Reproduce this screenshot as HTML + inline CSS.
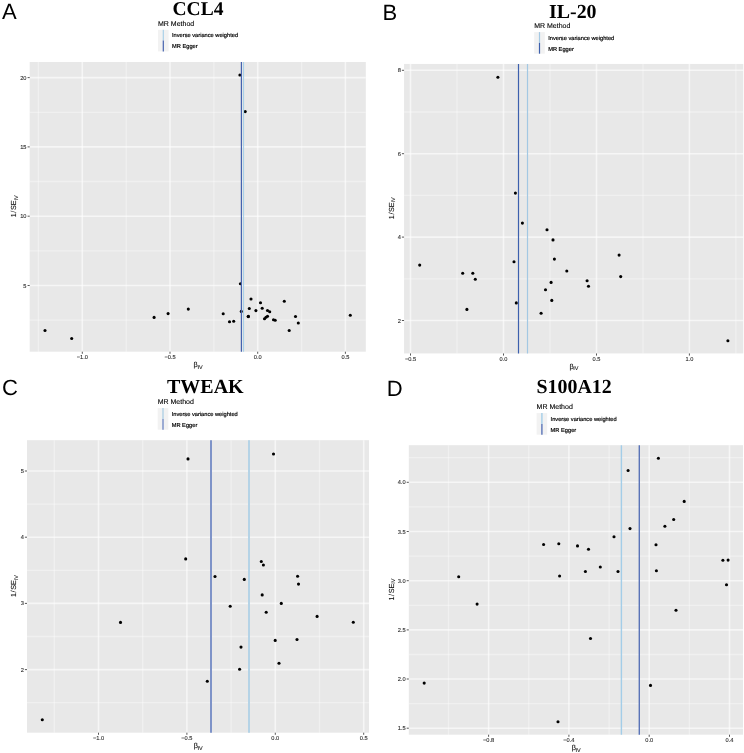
<!DOCTYPE html>
<html lang="en"><head><meta charset="utf-8"><title>Funnel plots</title>
<style>html,body{margin:0;padding:0;background:#fff}svg{display:block}text{font-family:"Liberation Sans",Arial,sans-serif;text-rendering:geometricPrecision}.t{font-family:"Liberation Serif","Times New Roman",serif;font-weight:bold;font-size:19.6px;fill:#000}.pl{font-size:22px;fill:#000}.tk{font-size:5.7px;fill:#2b2b2b;stroke:#2b2b2b;stroke-width:.1px}.ax{font-size:7.3px;fill:#111;stroke:#111;stroke-width:.12px}.sub{font-size:5.4px}.lt{font-size:7px;fill:#000;stroke:#000;stroke-width:.12px}.ll{font-size:5.7px;fill:#000;stroke:#000;stroke-width:.18px}</style></head><body>
<svg width="744" height="753" viewBox="0 0 744 753" style="will-change:transform">
<g id="panelA">
<rect x="29.7" y="62" width="336.1" height="289.7" fill="#e8e8e8"/>
<line x1="38.4" x2="38.4" y1="62" y2="351.7" stroke="#fff" stroke-opacity=".36" stroke-width="1.3"/>
<line x1="126.2" x2="126.2" y1="62" y2="351.7" stroke="#fff" stroke-opacity=".36" stroke-width="1.3"/>
<line x1="213.9" x2="213.9" y1="62" y2="351.7" stroke="#fff" stroke-opacity=".36" stroke-width="1.3"/>
<line x1="301.6" x2="301.6" y1="62" y2="351.7" stroke="#fff" stroke-opacity=".36" stroke-width="1.3"/>
<line x1="29.7" x2="365.8" y1="320.1" y2="320.1" stroke="#fff" stroke-opacity=".36" stroke-width="1.3"/>
<line x1="29.7" x2="365.8" y1="250.8" y2="250.8" stroke="#fff" stroke-opacity=".36" stroke-width="1.3"/>
<line x1="29.7" x2="365.8" y1="181.5" y2="181.5" stroke="#fff" stroke-opacity=".36" stroke-width="1.3"/>
<line x1="29.7" x2="365.8" y1="112.3" y2="112.3" stroke="#fff" stroke-opacity=".36" stroke-width="1.3"/>
<line x1="82.3" x2="82.3" y1="62" y2="351.7" stroke="#fff" stroke-opacity=".6" stroke-width="1.6"/>
<line x1="82.3" x2="82.3" y1="351.7" y2="353.8" stroke="#444" stroke-width=".9"/>
<text class="tk" x="82.3" y="359.0" text-anchor="middle">−1.0</text>
<line x1="170.0" x2="170.0" y1="62" y2="351.7" stroke="#fff" stroke-opacity=".6" stroke-width="1.6"/>
<line x1="170.0" x2="170.0" y1="351.7" y2="353.8" stroke="#444" stroke-width=".9"/>
<text class="tk" x="170.0" y="359.0" text-anchor="middle">−0.5</text>
<line x1="257.7" x2="257.7" y1="62" y2="351.7" stroke="#fff" stroke-opacity=".6" stroke-width="1.6"/>
<line x1="257.7" x2="257.7" y1="351.7" y2="353.8" stroke="#444" stroke-width=".9"/>
<text class="tk" x="257.7" y="359.0" text-anchor="middle">0.0</text>
<line x1="345.4" x2="345.4" y1="62" y2="351.7" stroke="#fff" stroke-opacity=".6" stroke-width="1.6"/>
<line x1="345.4" x2="345.4" y1="351.7" y2="353.8" stroke="#444" stroke-width=".9"/>
<text class="tk" x="345.4" y="359.0" text-anchor="middle">0.5</text>
<line x1="29.7" x2="365.8" y1="285.5" y2="285.5" stroke="#fff" stroke-opacity=".6" stroke-width="1.6"/>
<line x1="27.6" x2="29.7" y1="285.5" y2="285.5" stroke="#444" stroke-width=".9"/>
<text class="tk" x="26.5" y="287.5" text-anchor="end">5</text>
<line x1="29.7" x2="365.8" y1="216.2" y2="216.2" stroke="#fff" stroke-opacity=".6" stroke-width="1.6"/>
<line x1="27.6" x2="29.7" y1="216.2" y2="216.2" stroke="#444" stroke-width=".9"/>
<text class="tk" x="26.5" y="218.2" text-anchor="end">10</text>
<line x1="29.7" x2="365.8" y1="146.9" y2="146.9" stroke="#fff" stroke-opacity=".6" stroke-width="1.6"/>
<line x1="27.6" x2="29.7" y1="146.9" y2="146.9" stroke="#444" stroke-width=".9"/>
<text class="tk" x="26.5" y="148.9" text-anchor="end">15</text>
<line x1="29.7" x2="365.8" y1="77.6" y2="77.6" stroke="#fff" stroke-opacity=".6" stroke-width="1.6"/>
<line x1="27.6" x2="29.7" y1="77.6" y2="77.6" stroke="#444" stroke-width=".9"/>
<text class="tk" x="26.5" y="79.6" text-anchor="end">20</text>
<g fill="#000"><circle cx="45" cy="330.5" r="1.55"/><circle cx="71.7" cy="338.5" r="1.55"/><circle cx="251" cy="299" r="1.55"/><circle cx="249.3" cy="308.5" r="1.55"/><circle cx="248.4" cy="316.4" r="1.55"/><circle cx="255.9" cy="310.6" r="1.55"/><circle cx="260.5" cy="302.8" r="1.55"/><circle cx="262.2" cy="308.3" r="1.55"/><circle cx="267.5" cy="310.5" r="1.55"/><circle cx="269.7" cy="311.7" r="1.55"/><circle cx="267.5" cy="316.3" r="1.55"/><circle cx="266" cy="317.3" r="1.55"/><circle cx="264.5" cy="318.7" r="1.55"/><circle cx="273.5" cy="319.7" r="1.55"/><circle cx="275.2" cy="320.3" r="1.55"/><circle cx="284.3" cy="301.3" r="1.55"/><circle cx="295.5" cy="316.5" r="1.55"/><circle cx="298.3" cy="323" r="1.55"/><circle cx="289.2" cy="330.5" r="1.55"/><circle cx="350.3" cy="315.3" r="1.55"/><circle cx="154.1" cy="317.4" r="1.55"/><circle cx="168.1" cy="313.6" r="1.55"/><circle cx="188.3" cy="309.1" r="1.55"/><circle cx="223.2" cy="313.8" r="1.55"/><circle cx="229.5" cy="321.7" r="1.55"/><circle cx="233.7" cy="321.3" r="1.55"/><circle cx="240.4" cy="283.7" r="1.55"/><circle cx="241.3" cy="311.4" r="1.55"/><circle cx="248.2" cy="316.6" r="1.55"/><circle cx="239.9" cy="75" r="1.55"/><circle cx="245.2" cy="111.6" r="1.55"/></g>
<line x1="243.5" x2="243.5" y1="62" y2="351.7" stroke="#a9d0e8" stroke-width="1.2"/>
<line x1="241.4" x2="241.4" y1="62" y2="351.7" stroke="#4562ae" stroke-width="1.2"/>
<text class="ax" x="193.6" y="366.9">β<tspan class="sub" dy="1.7" dx="-.4">IV</tspan></text>
<text class="ax" transform="translate(16,217.3) rotate(-90)" >1<tspan dx=".55">/</tspan><tspan dx=".55">SE</tspan><tspan class="sub" dy="1.5" dx="-.2">IV</tspan></text>
<text class="t" style="font-size:19.5px" x="198" y="15.3" text-anchor="middle">CCL4</text>
<text class="pl" x="2" y="19">A</text>
<text class="lt" x="158" y="26.0">MR Method</text>
<rect x="158" y="29.8" width="10.6" height="21.6" fill="#f2f2f2"/>
<line x1="163.3" x2="163.3" y1="29.8" y2="40.6" stroke="#a9d0e8" stroke-width="1.2"/>
<line x1="163.3" x2="163.3" y1="40.6" y2="51.4" stroke="#4562ae" stroke-width="1.2"/>
<text class="ll" x="172.0" y="37.4">Inverse variance weighted</text>
<text class="ll" x="172.0" y="48.4">MR Egger</text>
</g>
<g id="panelB">
<rect x="404.05" y="63.95" width="339.2" height="289.5" fill="#e8e8e8"/>
<line x1="457.0" x2="457.0" y1="63.95" y2="353.45" stroke="#fff" stroke-opacity=".36" stroke-width="1.3"/>
<line x1="550.0" x2="550.0" y1="63.95" y2="353.45" stroke="#fff" stroke-opacity=".36" stroke-width="1.3"/>
<line x1="643.0" x2="643.0" y1="63.95" y2="353.45" stroke="#fff" stroke-opacity=".36" stroke-width="1.3"/>
<line x1="735.9" x2="735.9" y1="63.95" y2="353.45" stroke="#fff" stroke-opacity=".36" stroke-width="1.3"/>
<line x1="404.05" x2="743.3" y1="278.8" y2="278.8" stroke="#fff" stroke-opacity=".36" stroke-width="1.3"/>
<line x1="404.05" x2="743.3" y1="195.4" y2="195.4" stroke="#fff" stroke-opacity=".36" stroke-width="1.3"/>
<line x1="404.05" x2="743.3" y1="112.0" y2="112.0" stroke="#fff" stroke-opacity=".36" stroke-width="1.3"/>
<line x1="410.5" x2="410.5" y1="63.95" y2="353.45" stroke="#fff" stroke-opacity=".6" stroke-width="1.6"/>
<line x1="410.5" x2="410.5" y1="353.45" y2="355.6" stroke="#444" stroke-width=".9"/>
<text class="tk" x="410.5" y="360.8" text-anchor="middle">−0.5</text>
<line x1="503.5" x2="503.5" y1="63.95" y2="353.45" stroke="#fff" stroke-opacity=".6" stroke-width="1.6"/>
<line x1="503.5" x2="503.5" y1="353.45" y2="355.6" stroke="#444" stroke-width=".9"/>
<text class="tk" x="503.5" y="360.8" text-anchor="middle">0.0</text>
<line x1="596.5" x2="596.5" y1="63.95" y2="353.45" stroke="#fff" stroke-opacity=".6" stroke-width="1.6"/>
<line x1="596.5" x2="596.5" y1="353.45" y2="355.6" stroke="#444" stroke-width=".9"/>
<text class="tk" x="596.5" y="360.8" text-anchor="middle">0.5</text>
<line x1="689.4" x2="689.4" y1="63.95" y2="353.45" stroke="#fff" stroke-opacity=".6" stroke-width="1.6"/>
<line x1="689.4" x2="689.4" y1="353.45" y2="355.6" stroke="#444" stroke-width=".9"/>
<text class="tk" x="689.4" y="360.8" text-anchor="middle">1.0</text>
<line x1="404.05" x2="743.3" y1="320.5" y2="320.5" stroke="#fff" stroke-opacity=".6" stroke-width="1.6"/>
<line x1="401.9" x2="404.05" y1="320.5" y2="320.5" stroke="#444" stroke-width=".9"/>
<text class="tk" x="400.9" y="322.5" text-anchor="end">2</text>
<line x1="404.05" x2="743.3" y1="237.1" y2="237.1" stroke="#fff" stroke-opacity=".6" stroke-width="1.6"/>
<line x1="401.9" x2="404.05" y1="237.1" y2="237.1" stroke="#444" stroke-width=".9"/>
<text class="tk" x="400.9" y="239.1" text-anchor="end">4</text>
<line x1="404.05" x2="743.3" y1="153.7" y2="153.7" stroke="#fff" stroke-opacity=".6" stroke-width="1.6"/>
<line x1="401.9" x2="404.05" y1="153.7" y2="153.7" stroke="#444" stroke-width=".9"/>
<text class="tk" x="400.9" y="155.7" text-anchor="end">6</text>
<line x1="404.05" x2="743.3" y1="70.3" y2="70.3" stroke="#fff" stroke-opacity=".6" stroke-width="1.6"/>
<line x1="401.9" x2="404.05" y1="70.3" y2="70.3" stroke="#444" stroke-width=".9"/>
<text class="tk" x="400.9" y="72.3" text-anchor="end">8</text>
<g fill="#000"><circle cx="462.7" cy="273.3" r="1.55"/><circle cx="472.8" cy="273.3" r="1.55"/><circle cx="475.3" cy="279.2" r="1.55"/><circle cx="466.9" cy="309.4" r="1.55"/><circle cx="516.3" cy="302.9" r="1.55"/><circle cx="522.4" cy="223.1" r="1.55"/><circle cx="547" cy="229.7" r="1.55"/><circle cx="553" cy="239.9" r="1.55"/><circle cx="514" cy="261.7" r="1.55"/><circle cx="554.4" cy="259.1" r="1.55"/><circle cx="566.8" cy="271" r="1.55"/><circle cx="619.1" cy="255.1" r="1.55"/><circle cx="620.7" cy="276.6" r="1.55"/><circle cx="551.1" cy="282.4" r="1.55"/><circle cx="587.1" cy="280.8" r="1.55"/><circle cx="588.5" cy="286.2" r="1.55"/><circle cx="545.5" cy="289.7" r="1.55"/><circle cx="551.8" cy="300.4" r="1.55"/><circle cx="541.1" cy="313.3" r="1.55"/><circle cx="497.9" cy="77.2" r="1.55"/><circle cx="515.4" cy="193.1" r="1.55"/><circle cx="727.9" cy="340.8" r="1.55"/><circle cx="419.7" cy="265.1" r="1.55"/></g>
<line x1="527.5" x2="527.5" y1="63.95" y2="353.45" stroke="#a3c8e3" stroke-width="1.2"/>
<line x1="518.5" x2="518.5" y1="63.95" y2="353.45" stroke="#3d60ad" stroke-width="1.2"/>
<text class="ax" x="569.5" y="368.6">β<tspan class="sub" dy="1.7" dx="-.4">IV</tspan></text>
<text class="ax" transform="translate(393.8,219.2) rotate(-90)" >1<tspan dx=".55">/</tspan><tspan dx=".55">SE</tspan><tspan class="sub" dy="1.5" dx="-.2">IV</tspan></text>
<text class="t" style="font-size:19.9px" x="572.8" y="18.2" text-anchor="middle">IL-20</text>
<text class="pl" x="382.5" y="19.8">B</text>
<text class="lt" x="534.2" y="28.3">MR Method</text>
<rect x="534.2" y="32.1" width="10.6" height="21.6" fill="#f2f2f2"/>
<line x1="539.5" x2="539.5" y1="32.1" y2="42.9" stroke="#a3c8e3" stroke-width="1.2"/>
<line x1="539.5" x2="539.5" y1="42.9" y2="53.7" stroke="#3d60ad" stroke-width="1.2"/>
<text class="ll" x="548.2" y="39.7">Inverse variance weighted</text>
<text class="ll" x="548.2" y="50.7">MR Egger</text>
</g>
<g id="panelC">
<rect x="27" y="440.2" width="342.0" height="292.5" fill="#e8e8e8"/>
<line x1="54.3" x2="54.3" y1="440.2" y2="732.7" stroke="#fff" stroke-opacity=".36" stroke-width="1.3"/>
<line x1="142.7" x2="142.7" y1="440.2" y2="732.7" stroke="#fff" stroke-opacity=".36" stroke-width="1.3"/>
<line x1="231.1" x2="231.1" y1="440.2" y2="732.7" stroke="#fff" stroke-opacity=".36" stroke-width="1.3"/>
<line x1="319.5" x2="319.5" y1="440.2" y2="732.7" stroke="#fff" stroke-opacity=".36" stroke-width="1.3"/>
<line x1="27" x2="369" y1="702.7" y2="702.7" stroke="#fff" stroke-opacity=".36" stroke-width="1.3"/>
<line x1="27" x2="369" y1="636.5" y2="636.5" stroke="#fff" stroke-opacity=".36" stroke-width="1.3"/>
<line x1="27" x2="369" y1="570.3" y2="570.3" stroke="#fff" stroke-opacity=".36" stroke-width="1.3"/>
<line x1="27" x2="369" y1="504.1" y2="504.1" stroke="#fff" stroke-opacity=".36" stroke-width="1.3"/>
<line x1="98.5" x2="98.5" y1="440.2" y2="732.7" stroke="#fff" stroke-opacity=".6" stroke-width="1.6"/>
<line x1="98.5" x2="98.5" y1="732.7" y2="734.8" stroke="#444" stroke-width=".9"/>
<text class="tk" x="98.5" y="740.0" text-anchor="middle">−1.0</text>
<line x1="186.9" x2="186.9" y1="440.2" y2="732.7" stroke="#fff" stroke-opacity=".6" stroke-width="1.6"/>
<line x1="186.9" x2="186.9" y1="732.7" y2="734.8" stroke="#444" stroke-width=".9"/>
<text class="tk" x="186.9" y="740.0" text-anchor="middle">−0.5</text>
<line x1="275.3" x2="275.3" y1="440.2" y2="732.7" stroke="#fff" stroke-opacity=".6" stroke-width="1.6"/>
<line x1="275.3" x2="275.3" y1="732.7" y2="734.8" stroke="#444" stroke-width=".9"/>
<text class="tk" x="275.3" y="740.0" text-anchor="middle">0.0</text>
<line x1="363.7" x2="363.7" y1="440.2" y2="732.7" stroke="#fff" stroke-opacity=".6" stroke-width="1.6"/>
<line x1="363.7" x2="363.7" y1="732.7" y2="734.8" stroke="#444" stroke-width=".9"/>
<text class="tk" x="363.7" y="740.0" text-anchor="middle">0.5</text>
<line x1="27" x2="369" y1="669.6" y2="669.6" stroke="#fff" stroke-opacity=".6" stroke-width="1.6"/>
<line x1="24.9" x2="27" y1="669.6" y2="669.6" stroke="#444" stroke-width=".9"/>
<text class="tk" x="23.8" y="671.6" text-anchor="end">2</text>
<line x1="27" x2="369" y1="603.4" y2="603.4" stroke="#fff" stroke-opacity=".6" stroke-width="1.6"/>
<line x1="24.9" x2="27" y1="603.4" y2="603.4" stroke="#444" stroke-width=".9"/>
<text class="tk" x="23.8" y="605.4" text-anchor="end">3</text>
<line x1="27" x2="369" y1="537.2" y2="537.2" stroke="#fff" stroke-opacity=".6" stroke-width="1.6"/>
<line x1="24.9" x2="27" y1="537.2" y2="537.2" stroke="#444" stroke-width=".9"/>
<text class="tk" x="23.8" y="539.2" text-anchor="end">4</text>
<line x1="27" x2="369" y1="471.0" y2="471.0" stroke="#fff" stroke-opacity=".6" stroke-width="1.6"/>
<line x1="24.9" x2="27" y1="471.0" y2="471.0" stroke="#444" stroke-width=".9"/>
<text class="tk" x="23.8" y="473.0" text-anchor="end">5</text>
<g fill="#000"><circle cx="42.3" cy="719.7" r="1.55"/><circle cx="120.5" cy="622.4" r="1.55"/><circle cx="188" cy="458.9" r="1.55"/><circle cx="273.5" cy="454" r="1.55"/><circle cx="185.7" cy="558.9" r="1.55"/><circle cx="261.3" cy="561.5" r="1.55"/><circle cx="263.4" cy="565" r="1.55"/><circle cx="215" cy="576.5" r="1.55"/><circle cx="244.3" cy="579.4" r="1.55"/><circle cx="262.2" cy="594.9" r="1.55"/><circle cx="281.3" cy="603.4" r="1.55"/><circle cx="230.2" cy="606.3" r="1.55"/><circle cx="266.2" cy="612.2" r="1.55"/><circle cx="275.2" cy="640.4" r="1.55"/><circle cx="241" cy="647.1" r="1.55"/><circle cx="279" cy="663.2" r="1.55"/><circle cx="239.6" cy="669.3" r="1.55"/><circle cx="207.3" cy="681.3" r="1.55"/><circle cx="297.6" cy="576.2" r="1.55"/><circle cx="298.5" cy="584.1" r="1.55"/><circle cx="317.1" cy="616.4" r="1.55"/><circle cx="353.3" cy="622.3" r="1.55"/><circle cx="297" cy="639.5" r="1.55"/></g>
<line x1="249.0" x2="249.0" y1="440.2" y2="732.7" stroke="#b5d3e6" stroke-width="2.0"/>
<line x1="211.0" x2="211.0" y1="440.2" y2="732.7" stroke="#7e93c8" stroke-width="2.0"/>
<text class="ax" x="193.8" y="747.9">β<tspan class="sub" dy="1.7" dx="-.4">IV</tspan></text>
<text class="ax" transform="translate(16.1,597.0) rotate(-90)" >1<tspan dx=".55">/</tspan><tspan dx=".55">SE</tspan><tspan class="sub" dy="1.5" dx="-.2">IV</tspan></text>
<text class="t" style="font-size:20px" x="205.3" y="393.2" text-anchor="middle">TWEAK</text>
<text class="pl" x="2.1" y="395.3">C</text>
<text class="lt" x="157.7" y="404.3">MR Method</text>
<rect x="157.7" y="408.1" width="10.6" height="21.6" fill="#f2f2f2"/>
<line x1="163.0" x2="163.0" y1="408.1" y2="418.9" stroke="#b5d3e6" stroke-width="1.5"/>
<line x1="163.0" x2="163.0" y1="418.9" y2="429.7" stroke="#7e93c8" stroke-width="1.5"/>
<text class="ll" x="171.7" y="415.7">Inverse variance weighted</text>
<text class="ll" x="171.7" y="426.7">MR Egger</text>
</g>
<g id="panelD">
<rect x="408.8" y="445.2" width="334.2" height="289.5" fill="#e8e8e8"/>
<line x1="448.5" x2="448.5" y1="445.2" y2="734.7" stroke="#fff" stroke-opacity=".36" stroke-width="1.3"/>
<line x1="528.8" x2="528.8" y1="445.2" y2="734.7" stroke="#fff" stroke-opacity=".36" stroke-width="1.3"/>
<line x1="609.1" x2="609.1" y1="445.2" y2="734.7" stroke="#fff" stroke-opacity=".36" stroke-width="1.3"/>
<line x1="689.4" x2="689.4" y1="445.2" y2="734.7" stroke="#fff" stroke-opacity=".36" stroke-width="1.3"/>
<line x1="408.8" x2="743" y1="703.6" y2="703.6" stroke="#fff" stroke-opacity=".36" stroke-width="1.3"/>
<line x1="408.8" x2="743" y1="654.5" y2="654.5" stroke="#fff" stroke-opacity=".36" stroke-width="1.3"/>
<line x1="408.8" x2="743" y1="605.3" y2="605.3" stroke="#fff" stroke-opacity=".36" stroke-width="1.3"/>
<line x1="408.8" x2="743" y1="556.1" y2="556.1" stroke="#fff" stroke-opacity=".36" stroke-width="1.3"/>
<line x1="408.8" x2="743" y1="506.9" y2="506.9" stroke="#fff" stroke-opacity=".36" stroke-width="1.3"/>
<line x1="408.8" x2="743" y1="457.7" y2="457.7" stroke="#fff" stroke-opacity=".36" stroke-width="1.3"/>
<line x1="488.6" x2="488.6" y1="445.2" y2="734.7" stroke="#fff" stroke-opacity=".6" stroke-width="1.6"/>
<line x1="488.6" x2="488.6" y1="734.7" y2="736.8" stroke="#444" stroke-width=".9"/>
<text class="tk" x="488.6" y="742.0" text-anchor="middle">−0.8</text>
<line x1="568.9" x2="568.9" y1="445.2" y2="734.7" stroke="#fff" stroke-opacity=".6" stroke-width="1.6"/>
<line x1="568.9" x2="568.9" y1="734.7" y2="736.8" stroke="#444" stroke-width=".9"/>
<text class="tk" x="568.9" y="742.0" text-anchor="middle">−0.4</text>
<line x1="649.2" x2="649.2" y1="445.2" y2="734.7" stroke="#fff" stroke-opacity=".6" stroke-width="1.6"/>
<line x1="649.2" x2="649.2" y1="734.7" y2="736.8" stroke="#444" stroke-width=".9"/>
<text class="tk" x="649.2" y="742.0" text-anchor="middle">0.0</text>
<line x1="729.5" x2="729.5" y1="445.2" y2="734.7" stroke="#fff" stroke-opacity=".6" stroke-width="1.6"/>
<line x1="729.5" x2="729.5" y1="734.7" y2="736.8" stroke="#444" stroke-width=".9"/>
<text class="tk" x="729.5" y="742.0" text-anchor="middle">0.4</text>
<line x1="408.8" x2="743" y1="728.2" y2="728.2" stroke="#fff" stroke-opacity=".6" stroke-width="1.6"/>
<line x1="406.7" x2="408.8" y1="728.2" y2="728.2" stroke="#444" stroke-width=".9"/>
<text class="tk" x="405.6" y="730.2" text-anchor="end">1.5</text>
<line x1="408.8" x2="743" y1="679.0" y2="679.0" stroke="#fff" stroke-opacity=".6" stroke-width="1.6"/>
<line x1="406.7" x2="408.8" y1="679.0" y2="679.0" stroke="#444" stroke-width=".9"/>
<text class="tk" x="405.6" y="681.0" text-anchor="end">2.0</text>
<line x1="408.8" x2="743" y1="629.9" y2="629.9" stroke="#fff" stroke-opacity=".6" stroke-width="1.6"/>
<line x1="406.7" x2="408.8" y1="629.9" y2="629.9" stroke="#444" stroke-width=".9"/>
<text class="tk" x="405.6" y="631.9" text-anchor="end">2.5</text>
<line x1="408.8" x2="743" y1="580.7" y2="580.7" stroke="#fff" stroke-opacity=".6" stroke-width="1.6"/>
<line x1="406.7" x2="408.8" y1="580.7" y2="580.7" stroke="#444" stroke-width=".9"/>
<text class="tk" x="405.6" y="582.7" text-anchor="end">3.0</text>
<line x1="408.8" x2="743" y1="531.5" y2="531.5" stroke="#fff" stroke-opacity=".6" stroke-width="1.6"/>
<line x1="406.7" x2="408.8" y1="531.5" y2="531.5" stroke="#444" stroke-width=".9"/>
<text class="tk" x="405.6" y="533.5" text-anchor="end">3.5</text>
<line x1="408.8" x2="743" y1="482.3" y2="482.3" stroke="#fff" stroke-opacity=".6" stroke-width="1.6"/>
<line x1="406.7" x2="408.8" y1="482.3" y2="482.3" stroke="#444" stroke-width=".9"/>
<text class="tk" x="405.6" y="484.3" text-anchor="end">4.0</text>
<g fill="#000"><circle cx="424.2" cy="683.1" r="1.55"/><circle cx="477.1" cy="604.1" r="1.55"/><circle cx="658.4" cy="458.3" r="1.55"/><circle cx="628.1" cy="470.5" r="1.55"/><circle cx="630" cy="528.6" r="1.55"/><circle cx="664.9" cy="526.2" r="1.55"/><circle cx="614" cy="536.7" r="1.55"/><circle cx="543.6" cy="544.5" r="1.55"/><circle cx="558.8" cy="543.7" r="1.55"/><circle cx="577.5" cy="545.9" r="1.55"/><circle cx="588.5" cy="549.3" r="1.55"/><circle cx="656" cy="544.7" r="1.55"/><circle cx="600.3" cy="567" r="1.55"/><circle cx="585.4" cy="571.5" r="1.55"/><circle cx="618" cy="571.5" r="1.55"/><circle cx="656.4" cy="570.7" r="1.55"/><circle cx="559.6" cy="576" r="1.55"/><circle cx="684.2" cy="501.4" r="1.55"/><circle cx="673.7" cy="519.5" r="1.55"/><circle cx="722.9" cy="560.3" r="1.55"/><circle cx="728.1" cy="560.1" r="1.55"/><circle cx="726.5" cy="584.7" r="1.55"/><circle cx="676" cy="610.3" r="1.55"/><circle cx="650.5" cy="685.4" r="1.55"/><circle cx="590.5" cy="638.5" r="1.55"/><circle cx="558" cy="721.8" r="1.55"/><circle cx="458.7" cy="576.7" r="1.55"/></g>
<line x1="621.4" x2="621.4" y1="445.2" y2="734.7" stroke="#a3cde8" stroke-width="1.4"/>
<line x1="639.3" x2="639.3" y1="445.2" y2="734.7" stroke="#5a74b8" stroke-width="1.4"/>
<text class="ax" x="571.7" y="749.9">β<tspan class="sub" dy="1.7" dx="-.4">IV</tspan></text>
<text class="ax" transform="translate(393.8,600.5) rotate(-90)" >1<tspan dx=".55">/</tspan><tspan dx=".55">SE</tspan><tspan class="sub" dy="1.5" dx="-.2">IV</tspan></text>
<text class="t" style="font-size:19.9px" x="574.1" y="393.4" text-anchor="middle">S100A12</text>
<text class="pl" x="386.8" y="396">D</text>
<text class="lt" x="536.6" y="409.3">MR Method</text>
<rect x="536.6" y="413.1" width="10.6" height="21.6" fill="#f2f2f2"/>
<line x1="541.9" x2="541.9" y1="413.1" y2="423.9" stroke="#a3cde8" stroke-width="1.4"/>
<line x1="541.9" x2="541.9" y1="423.9" y2="434.7" stroke="#5a74b8" stroke-width="1.4"/>
<text class="ll" x="550.6" y="420.7">Inverse variance weighted</text>
<text class="ll" x="550.6" y="431.7">MR Egger</text>
</g>
</svg></body></html>
